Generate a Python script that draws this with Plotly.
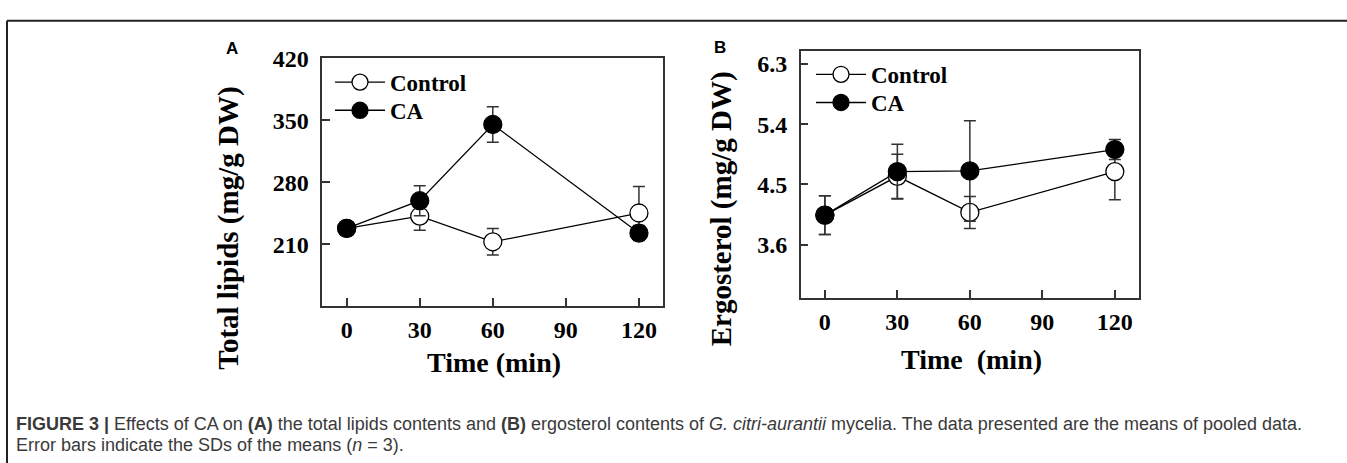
import plotly.graph_objects as go

W, H = 1347, 463

# ---- data ----
time_min = [0, 30, 60, 120]
x_ticks = [0, 30, 60, 90, 120]

lipids_control = [228, 241.7, 212.8, 245.3]
lipids_control_sd = [3, 16, 15, 30]
lipids_ca = [228, 259.2, 345.3, 222.7]
lipids_ca_sd = [3, 17, 20, 8.5]
lipids_ticks = [210, 280, 350, 420]

ergo_control = [4.04, 4.62, 4.08, 4.69]
ergo_control_sd = [0.29, 0.33, 0.24, 0.42]
ergo_ca = [4.04, 4.69, 4.70, 5.02]
ergo_ca_sd = [0.29, 0.41, 0.75, 0.15]
ergo_ticks = [3.6, 4.5, 5.4, 6.3]


def px(x):
    return x / W


def py(y):
    return 1 - y / H


SERIF = "Liberation Serif, Times New Roman, serif"
AXC = "#333333"

fig = go.Figure()


def add_series(xa, ya, yvals, sd, name, filled, legend):
    fig.add_trace(go.Scatter(
        x=time_min, y=yvals, name=name, mode="lines+markers",
        xaxis=xa, yaxis=ya, legend=legend, showlegend=True,
        line=dict(color="black", width=1.3),
        marker=dict(symbol="circle", size=18,
                    color="black" if filled else "white",
                    line=dict(color="black", width=1.3)),
        error_y=dict(type="data", array=sd, visible=True,
                     color=AXC, thickness=1.5, width=6),
    ))


add_series("x", "y", lipids_control, lipids_control_sd, "Control", False, "legend")
add_series("x", "y", lipids_ca, lipids_ca_sd, "CA", True, "legend3")
add_series("x2", "y2", ergo_control, ergo_control_sd, "Control", False, "legend2")
add_series("x2", "y2", ergo_ca, ergo_ca_sd, "CA", True, "legend4")

tickfont = dict(family=SERIF, size=24, color="black", weight="bold")
common = dict(showline=True, linecolor=AXC, linewidth=1.5, mirror=True,
              ticks="inside", ticklen=8, tickwidth=1.5, tickcolor=AXC,
              showgrid=False, zeroline=False, tickfont=tickfont)
xcommon = dict(common, ticklabelstandoff=1)
ycommon = dict(common, ticklabelstandoff=7)

legfont = dict(family=SERIF, size=23, color="black", weight="bold")


def leg(x, y):
    return dict(x=px(x), y=py(y), xanchor="left", yanchor="top",
                bgcolor="rgba(0,0,0,0)", itemwidth=50, font=legfont)


fig.update_layout(
    width=W, height=H,
    margin=dict(l=0, r=0, t=0, b=0),
    paper_bgcolor="white", plot_bgcolor="white",
    xaxis=dict(domain=[px(322.3), px(663.3)], range=[-10, 130],
               tickvals=x_ticks, anchor="y", **xcommon),
    yaxis=dict(domain=[py(301.7), py(46.7)], range=[140, 420],
               tickvals=lipids_ticks, anchor="x", **ycommon),
    xaxis2=dict(domain=[px(800.7), px(1139)], range=[-10, 130],
                tickvals=x_ticks, anchor="y2", **xcommon),
    yaxis2=dict(domain=[py(293.3), py(39.3)], range=[2.8, 6.49],
                tickvals=ergo_ticks, tickformat=".1f", anchor="x2", **ycommon),
    legend=leg(330, 49),
    legend3=leg(330, 78),
    legend2=leg(811, 41),
    legend4=leg(811, 70),
)

ann = []
# axis titles
ann.append(dict(text="Total lipids (mg/g DW)", x=px(229), y=py(221), textangle=-90,
                font=dict(family=SERIF, size=29, color="black", weight="bold")))
ann.append(dict(text="Ergosterol (mg/g DW)", x=px(721), y=py(202), textangle=-90,
                font=dict(family=SERIF, size=29, color="black", weight="bold")))
ann.append(dict(text="Time (min)", x=px(493.5), y=py(360),
                font=dict(family=SERIF, size=28, color="black", weight="bold")))
ann.append(dict(text="Time  (min)", x=px(971.5), y=py(357),
                font=dict(family=SERIF, size=28, color="black", weight="bold")))
# panel letters
ann.append(dict(text="A", x=px(232), y=py(36.7),
                font=dict(family="Liberation Sans, Arial", size=17, color="black", weight="bold")))
ann.append(dict(text="B", x=px(720), y=py(35),
                font=dict(family="Liberation Sans, Arial", size=17, color="black", weight="bold")))
# caption
CAPF = dict(family="Liberation Sans, Arial, sans-serif", size=18, color="#3a3a3a")
ann.append(dict(text="<b>FIGURE 3 |</b> Effects of CA on <b>(A)</b> the total lipids contents and "
                     "<b>(B)</b> ergosterol contents of <i>G. citri-aurantii</i> mycelia. "
                     "The data presented are the means of pooled data.",
                x=px(14), y=py(423), xanchor="left", font=CAPF))
ann.append(dict(text="Error bars indicate the SDs of the means (<i>n</i> = 3).",
                x=px(14), y=py(444), xanchor="left", font=CAPF))

for a in ann:
    a.setdefault("xanchor", "center")
    a.update(xref="paper", yref="paper", yanchor="middle", showarrow=False)
fig.update_layout(annotations=ann)

# figure frame (top and left rules)
fig.add_shape(type="line", xref="paper", yref="paper", x0=px(7), x1=1, y0=py(8), y1=py(8),
              line=dict(color="#222222", width=2))
fig.add_shape(type="line", xref="paper", yref="paper", x0=px(7), x1=px(7), y0=py(8), y1=0,
              line=dict(color="#222222", width=2))

fig.write_html("out.html", config={"displayModeBar": False},
               post_script="document.body.style.margin='0px';document.body.style.overflow='hidden';")
